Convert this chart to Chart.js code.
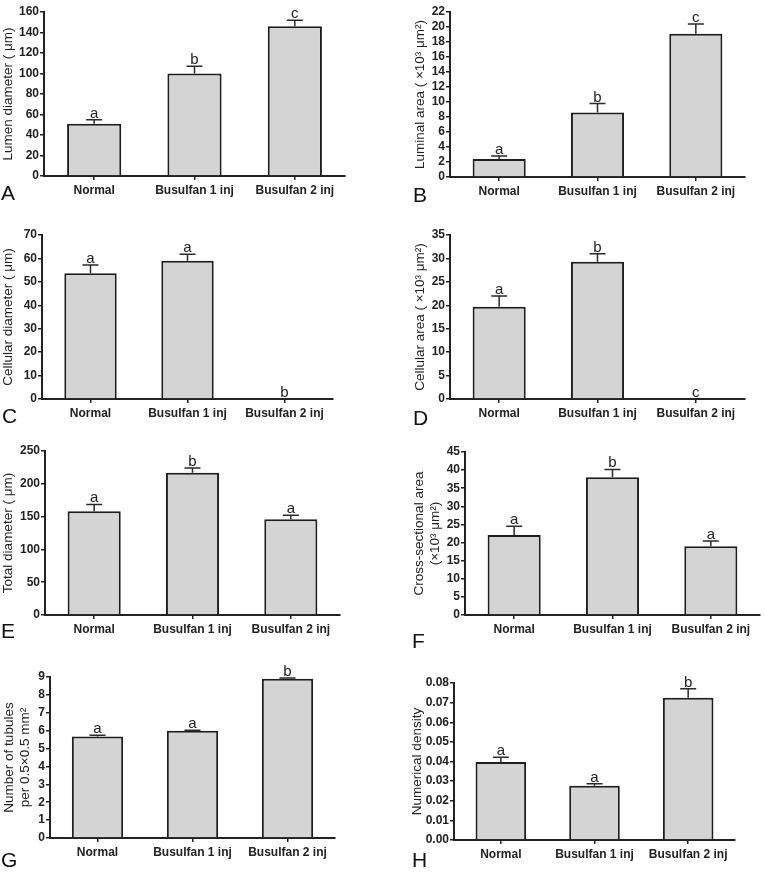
<!DOCTYPE html>
<html>
<head>
<meta charset="utf-8">
<script src="https://cdn.jsdelivr.net/npm/chart.js@4.4.1/dist/chart.umd.min.js"></script>
<style>
  html, body { margin: 0; padding: 0; background: #fff; }
  #page { position: relative; width: 765px; height: 875px; overflow: hidden; }
  #page canvas { position: absolute; }
  .tag { position: absolute; font: 21px "Liberation Sans", Arial, sans-serif; color: #111; line-height: 1; }
</style>
</head>
<body>
<div id="page"></div>
<script>
const groups = ['Normal', 'Busulfan 1 inj', 'Busulfan 2 inj'];

// A - lumen diameter
const lumenDiameter = [51, 100, 146];
const lumenDiameterSem = [4, 7, 6];
const lumenDiameterSig = ['a', 'b', 'c'];
const lumenDiameterTicks = [0, 20, 40, 60, 80, 100, 120, 140, 160];

// B - luminal area
const luminalArea = [2.4, 8.6, 19.1];
const luminalAreaSem = [0.4, 1.2, 1.3];
const luminalAreaSig = ['a', 'b', 'c'];
const luminalAreaTicks = [0, 2, 4, 6, 8, 10, 12, 14, 16, 18, 20, 22];

// C - cellular diameter
const cellDiameter = [53.7, 59, 0];
const cellDiameterSem = [3.5, 2.8, 0];
const cellDiameterSig = ['a', 'a', 'b'];
const cellDiameterTicks = [0, 10, 20, 30, 40, 50, 60, 70];

// D - cellular area
const cellArea = [19.7, 29.3, 0];
const cellAreaSem = [2.3, 1.7, 0];
const cellAreaSig = ['a', 'b', 'c'];
const cellAreaTicks = [0, 5, 10, 15, 20, 25, 30, 35];

// E - total diameter
const totalDiameter = [158, 217, 146];
const totalDiameterSem = [10.5, 7, 6];
const totalDiameterSig = ['a', 'b', 'a'];
const totalDiameterTicks = [0, 50, 100, 150, 200, 250];

// F - cross-sectional area
const crossArea = [22.1, 38, 19];
const crossAreaSem = [2.4, 2.2, 1.4];
const crossAreaSig = ['a', 'b', 'a'];
const crossAreaTicks = [0, 5, 10, 15, 20, 25, 30, 35, 40, 45];

// G - number of tubules
const tubuleCount = [5.68, 6.0, 8.9];
const tubuleCountSem = [0.06, 0.03, 0.05];
const tubuleCountSig = ['a', 'a', 'b'];
const tubuleCountTicks = [0, 1, 2, 3, 4, 5, 6, 7, 8, 9];

// H - numerical density
const numDensity = [0.0397, 0.0276, 0.0725];
const numDensitySem = [0.0025, 0.001, 0.0046];
const numDensitySig = ['a', 'a', 'b'];
const numDensityTicks = [0, 0.01, 0.02, 0.03, 0.04, 0.05, 0.06, 0.07, 0.08];

const FONT = '"Liberation Sans", Arial, sans-serif';
Chart.defaults.font.family = FONT;
Chart.defaults.color = '#222';

// panel placement (page pixels): box = plot area [left, top, right, bottom]
const panels = [
  { tag: 'A', x: 0, y: 0, w: 382, h: 210, box: [44, 12, 345, 176], titleX: 8, tagPos: [1, 182],
    title: 'Lumen diameter ( μm)', values: lumenDiameter, sem: lumenDiameterSem, sig: lumenDiameterSig, ticks: lumenDiameterTicks, dec: 0 },
  { tag: 'B', x: 382, y: 0, w: 383, h: 210, box: [450, 12, 745, 177], titleX: 420, tagPos: [413, 184],
    title: 'Luminal area ( ×10³ μm²)', values: luminalArea, sem: luminalAreaSem, sig: luminalAreaSig, ticks: luminalAreaTicks, dec: 0 },
  { tag: 'C', x: 0, y: 210, w: 382, h: 220, box: [42, 235, 333, 399], titleX: 8, tagPos: [2, 405],
    title: 'Cellular diameter ( μm)', values: cellDiameter, sem: cellDiameterSem, sig: cellDiameterSig, ticks: cellDiameterTicks, dec: 0 },
  { tag: 'D', x: 382, y: 210, w: 383, h: 220, box: [450, 235, 745, 399], titleX: 420, tagPos: [413, 407],
    title: 'Cellular area ( ×10³ μm²)', values: cellArea, sem: cellAreaSem, sig: cellAreaSig, ticks: cellAreaTicks, dec: 0 },
  { tag: 'E', x: 0, y: 430, w: 382, h: 215, box: [45, 451, 340, 615], titleX: 8, tagPos: [1, 620],
    title: 'Total diameter ( μm)', values: totalDiameter, sem: totalDiameterSem, sig: totalDiameterSig, ticks: totalDiameterTicks, dec: 0 },
  { tag: 'F', x: 382, y: 430, w: 383, h: 215, box: [465, 452, 760, 615], titleX: 419, tagPos: [412, 630],
    title: ['Cross-sectional area', '(×10³ μm²)'], values: crossArea, sem: crossAreaSem, sig: crossAreaSig, ticks: crossAreaTicks, dec: 0 },
  { tag: 'G', x: 0, y: 645, w: 382, h: 230, box: [50, 677, 335, 838], titleX: 9, tagPos: [1, 849],
    title: ['Number of tubules', 'per 0.5×0.5 mm²'], values: tubuleCount, sem: tubuleCountSem, sig: tubuleCountSig, ticks: tubuleCountTicks, dec: 0 },
  { tag: 'H', x: 382, y: 645, w: 383, h: 230, box: [454, 683, 735, 840], titleX: 417, tagPos: [412, 849],
    title: 'Numerical density', values: numDensity, sem: numDensitySem, sig: numDensitySig, ticks: numDensityTicks, dec: 2 },
];

// SEM bars + significance letters
const errorBars = {
  id: 'errorBars',
  afterDatasetsDraw(chart, args, opts) {
    const { ctx } = chart;
    const y = chart.scales.y;
    const meta = chart.getDatasetMeta(0);
    ctx.save();
    ctx.strokeStyle = '#2a2a2a';
    ctx.lineWidth = 1.5;
    ctx.fillStyle = '#222';
    ctx.font = '15px ' + FONT;
    ctx.textAlign = 'center';
    ctx.textBaseline = 'alphabetic';
    meta.data.forEach((bar, i) => {
      const v = opts.values[i];
      const top = y.getPixelForValue(v + opts.sem[i]);
      if (v > 0) {
        ctx.beginPath();
        ctx.moveTo(bar.x, bar.y);
        ctx.lineTo(bar.x, top);
        ctx.moveTo(bar.x - 8, top);
        ctx.lineTo(bar.x + 8, top);
        ctx.stroke();
      }
      ctx.fillText(opts.sig[i], bar.x, top - 2);
    });
    ctx.restore();
  }
};

const page = document.getElementById('page');
const X_AXIS_H = 28;
const TITLE_LH = 13.5 * 1.2;

panels.forEach(p => {
  const canvas = document.createElement('canvas');
  canvas.width = p.w;
  canvas.height = p.h;
  canvas.style.left = p.x + 'px';
  canvas.style.top = p.y + 'px';
  canvas.style.width = p.w + 'px';
  canvas.style.height = p.h + 'px';
  page.appendChild(canvas);

  const [l, t, r, b] = p.box;
  const padLeft = Math.max(0, p.titleX - TITLE_LH / 2 - p.x);
  const yWidth = l - p.x - padLeft;

  new Chart(canvas, {
    type: 'bar',
    data: {
      labels: groups,
      datasets: [{
        data: p.values,
        backgroundColor: '#d4d4d4',
        borderColor: '#1e1e1e',
        borderWidth: 2,
        categoryPercentage: 1,
        barPercentage: 0.54,
      }],
    },
    options: {
      responsive: false,
      animation: false,
      devicePixelRatio: 1,
      layout: {
        padding: { left: padLeft, top: t - p.y, right: p.x + p.w - r, bottom: p.y + p.h - b - X_AXIS_H },
      },
      plugins: {
        legend: { display: false },
        tooltip: { enabled: false },
        errorBars: { values: p.values, sem: p.sem, sig: p.sig },
      },
      scales: {
        x: {
          z: 1,
          grid: { offset: false, drawOnChartArea: false, tickLength: 4, color: '#222', lineWidth: 1.5 },
          border: { color: '#222', width: 2 },
          ticks: { font: { size: 12, weight: 'bold' }, padding: 3, maxRotation: 0, autoSkip: false },
          afterFit: s => { s.height = X_AXIS_H; },
        },
        y: {
          z: 1,
          min: 0,
          max: p.ticks[p.ticks.length - 1],
          grid: { drawOnChartArea: false, tickLength: 4, color: '#222', lineWidth: 1.5 },
          border: { color: '#222', width: 2 },
          ticks: { font: { size: 12, weight: 'bold' }, padding: 1, autoSkip: false, callback: v => Number(v).toFixed(p.dec) },
          title: { display: true, text: p.title, font: { size: 13.5 }, padding: 0 },
          afterBuildTicks: s => { s.ticks = p.ticks.map(v => ({ value: v })); },
          afterFit: s => { s.width = yWidth; },
        },
      },
    },
    plugins: [errorBars],
  });

  const tag = document.createElement('div');
  tag.className = 'tag';
  tag.textContent = p.tag;
  tag.style.left = p.tagPos[0] + 'px';
  tag.style.top = p.tagPos[1] + 'px';
  page.appendChild(tag);
});
</script>
</body>
</html>
